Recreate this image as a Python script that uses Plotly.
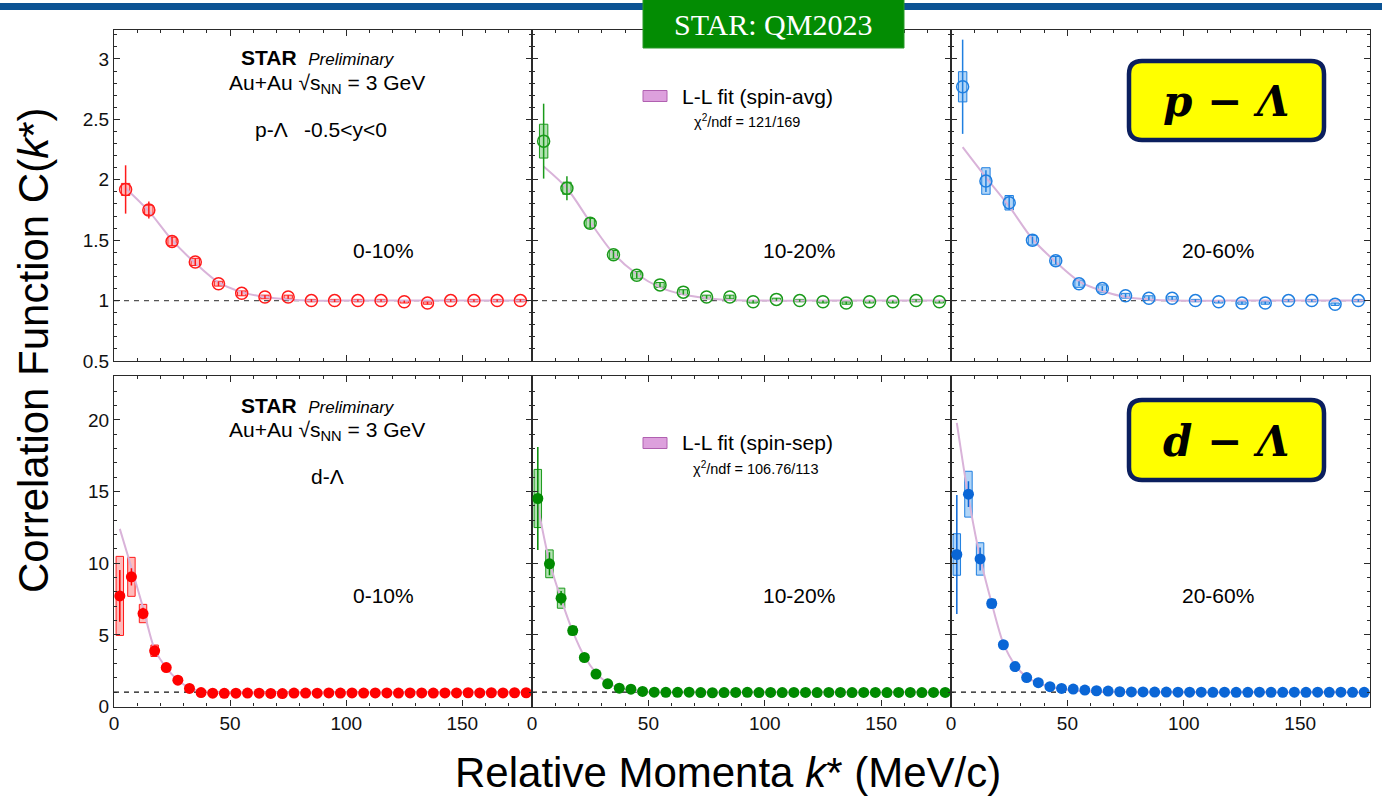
import plotly.graph_objects as go

W, H = 1382, 799

# ---------------- data ----------------
# p-Lambda, k* bin centres (MeV/c)
k_pL = [5, 15, 25, 35, 45, 55, 65, 75, 85, 95, 105, 115, 125, 135, 145, 155, 165, 175]

pL_0_10 = [1.92, 1.75, 1.49, 1.32, 1.14, 1.06, 1.03, 1.03, 1.00, 1.00, 1.00, 1.00, 0.99, 0.98, 1.00, 1.00, 1.00, 1.00]
pL_0_10_stat = [0.20, 0.07, 0.04, 0.03, 0.02, 0.02, 0.015, 0.015, 0.012, 0.012, 0.01, 0.01, 0.01, 0.01, 0.01, 0.01, 0.01, 0.01]
pL_0_10_sys = [0.05, 0.04, 0.035, 0.03, 0.02, 0.02, 0.015, 0.015, 0.01, 0.01, 0.01, 0.01, 0.01, 0.01, 0.01, 0.01, 0.01, 0.01]

pL_10_20 = [2.32, 1.93, 1.64, 1.38, 1.21, 1.13, 1.07, 1.03, 1.03, 0.99, 1.01, 1.00, 0.99, 0.98, 0.99, 0.99, 1.00, 0.99]
pL_10_20_stat = [0.31, 0.10, 0.04, 0.03, 0.025, 0.02, 0.02, 0.015, 0.015, 0.012, 0.012, 0.01, 0.01, 0.01, 0.01, 0.01, 0.01, 0.01]
pL_10_20_sys = [0.14, 0.05, 0.04, 0.035, 0.03, 0.02, 0.02, 0.015, 0.015, 0.01, 0.01, 0.01, 0.01, 0.01, 0.01, 0.01, 0.01, 0.01]

pL_20_60 = [2.77, 1.99, 1.81, 1.50, 1.33, 1.14, 1.10, 1.04, 1.02, 1.02, 1.00, 0.99, 0.98, 0.98, 1.00, 1.00, 0.97, 1.00]
pL_20_60_stat = [0.39, 0.09, 0.06, 0.03, 0.03, 0.02, 0.02, 0.015, 0.015, 0.012, 0.012, 0.01, 0.01, 0.01, 0.01, 0.01, 0.01, 0.01]
pL_20_60_sys = [0.125, 0.11, 0.06, 0.04, 0.035, 0.03, 0.03, 0.02, 0.02, 0.015, 0.01, 0.01, 0.01, 0.01, 0.01, 0.01, 0.01, 0.01]

# Lednicky-Lyuboshitz fit curves, p-Lambda
k_fit_pL = [5, 15, 25, 35, 45, 55, 65, 75, 85, 95, 120, 150, 178]
fit_pL_0_10 = [1.93, 1.74, 1.50, 1.31, 1.15, 1.07, 1.03, 1.01, 1.0, 1.0, 1.0, 1.0, 1.0]
fit_pL_10_20 = [2.11, 1.93, 1.65, 1.39, 1.22, 1.11, 1.05, 1.02, 1.005, 1.0, 1.0, 1.0, 1.0]
fit_pL_20_60 = [2.27, 2.02, 1.78, 1.51, 1.32, 1.16, 1.08, 1.03, 1.01, 1.0, 1.0, 1.0, 1.0]

# d-Lambda, k* bin centres (MeV/c)
k_dL = [2.5, 7.5, 12.5, 17.5, 22.5, 27.5, 32.5, 37.5, 42.5, 47.5, 52.5, 57.5,
        62.5, 67.5, 72.5, 77.5, 82.5, 87.5, 92.5, 97.5, 102.5, 107.5, 112.5, 117.5,
        122.5, 127.5, 132.5, 137.5, 142.5, 147.5, 152.5, 157.5, 162.5, 167.5, 172.5, 177.5]

dL_0_10 = [7.72, 9.05, 6.49, 3.89, 2.72, 1.84, 1.26, 0.97, 0.93, 0.92, 0.93, 0.94,
           0.93, 0.91, 0.90, 0.94, 0.94, 0.93, 0.95, 0.94, 0.95, 0.94, 0.95, 0.95,
           0.94, 0.95, 0.95, 0.94, 0.95, 0.95, 0.96, 0.95, 0.96, 0.95, 0.96, 0.96]
dL_0_10_stat = [1.8, 0.6, 0.4, 0.3, 0.2, 0.15, 0.1, 0.08, 0.06, 0.05, 0.05, 0.05,
                0.05, 0.05, 0.05, 0.05, 0.05, 0.05, 0.05, 0.05, 0.05, 0.05, 0.05, 0.05,
                0.05, 0.05, 0.05, 0.05, 0.05, 0.05, 0.05, 0.05, 0.05, 0.05, 0.05, 0.05]
dL_0_10_sys = [2.76, 1.36, 0.64, 0.40, 0.15, 0.1, 0.08, 0.05, 0.05, 0.05, 0.05, 0.05,
               0.05, 0.05, 0.05, 0.05, 0.05, 0.05, 0.05, 0.05, 0.05, 0.05, 0.05, 0.05,
               0.05, 0.05, 0.05, 0.05, 0.05, 0.05, 0.05, 0.05, 0.05, 0.05, 0.05, 0.05]

dL_10_20 = [14.52, 9.96, 7.56, 5.30, 3.42, 2.26, 1.58, 1.28, 1.21, 1.05, 1.00, 0.99,
            0.99, 1.00, 0.97, 0.96, 0.97, 0.98, 0.99, 0.97, 0.98, 0.97, 0.98, 0.98,
            0.97, 0.98, 0.98, 0.97, 0.98, 0.98, 0.97, 0.98, 0.98, 0.97, 0.98, 0.98]
dL_10_20_stat = [3.6, 0.8, 0.5, 0.3, 0.2, 0.15, 0.1, 0.08, 0.06, 0.05, 0.05, 0.05,
                 0.05, 0.05, 0.05, 0.05, 0.05, 0.05, 0.05, 0.05, 0.05, 0.05, 0.05, 0.05,
                 0.05, 0.05, 0.05, 0.05, 0.05, 0.05, 0.05, 0.05, 0.05, 0.05, 0.05, 0.05]
dL_10_20_sys = [2.03, 0.97, 0.70, 0.30, 0.2, 0.1, 0.08, 0.05, 0.05, 0.05, 0.05, 0.05,
                0.05, 0.05, 0.05, 0.05, 0.05, 0.05, 0.05, 0.05, 0.05, 0.05, 0.05, 0.05,
                0.05, 0.05, 0.05, 0.05, 0.05, 0.05, 0.05, 0.05, 0.05, 0.05, 0.05, 0.05]

dL_20_60 = [10.61, 14.82, 10.30, 7.19, 4.31, 2.79, 2.02, 1.66, 1.38, 1.26, 1.22, 1.15,
            1.10, 1.08, 1.03, 1.02, 1.02, 1.01, 1.01, 1.00, 1.00, 1.00, 0.99, 1.00,
            0.99, 0.99, 1.00, 0.99, 0.99, 1.00, 0.99, 1.00, 0.99, 1.00, 0.99, 0.99]
dL_20_60_stat = [4.16, 0.9, 0.8, 0.3, 0.2, 0.15, 0.1, 0.08, 0.06, 0.05, 0.05, 0.05,
                 0.05, 0.05, 0.05, 0.05, 0.05, 0.05, 0.05, 0.05, 0.05, 0.05, 0.05, 0.05,
                 0.05, 0.05, 0.05, 0.05, 0.05, 0.05, 0.05, 0.05, 0.05, 0.05, 0.05, 0.05]
dL_20_60_sys = [1.45, 1.60, 1.13, 0.30, 0.2, 0.1, 0.08, 0.05, 0.05, 0.05, 0.05, 0.05,
                0.05, 0.05, 0.05, 0.05, 0.05, 0.05, 0.05, 0.05, 0.05, 0.05, 0.05, 0.05,
                0.05, 0.05, 0.05, 0.05, 0.05, 0.05, 0.05, 0.05, 0.05, 0.05, 0.05, 0.05]

# Lednicky-Lyuboshitz fit curves, d-Lambda
k_fit_dL_0_10 = [2.5, 7.5, 12.5, 17.5, 22.5, 27.5, 32.5, 37.5, 42.5, 50, 100, 178]
fit_dL_0_10 = [12.4, 9.7, 6.9, 4.0, 2.7, 1.85, 1.3, 1.08, 1.02, 1.0, 1.0, 1.0]
k_fit_dL_10_20 = [2.5, 7.5, 12.5, 17.5, 22.5, 27.5, 32.5, 37.5, 42.5, 47.5, 55, 100, 178]
fit_dL_10_20 = [14.0, 10.1, 7.5, 5.25, 3.5, 2.35, 1.65, 1.3, 1.12, 1.04, 1.0, 1.0, 1.0]
k_fit_dL_20_60 = [2.5, 7.5, 12.5, 17.5, 22.5, 27.5, 32.5, 37.5, 42.5, 47.5, 52.5, 57.5, 62.5, 70, 100, 178]
fit_dL_20_60 = [19.8, 14.6, 10.4, 7.2, 4.4, 2.9, 2.05, 1.62, 1.38, 1.22, 1.12, 1.06, 1.03, 1.01, 1.0, 1.0]

centralities = ["0-10%", "10-20%", "20-60%"]
colors_open = ["#ff1a1a", "#1a9a1a", "#1f7fe0"]
colors_fill = ["#ff0000", "#008a00", "#0a66d6"]
box_fill = ["rgba(255,60,60,0.35)", "rgba(40,170,40,0.35)", "rgba(60,150,235,0.40)"]

panels = [
    dict(k=k_pL, c=pL_0_10, stat=pL_0_10_stat, sys=pL_0_10_sys, kf=k_fit_pL, cf=fit_pL_0_10),
    dict(k=k_pL, c=pL_10_20, stat=pL_10_20_stat, sys=pL_10_20_sys, kf=k_fit_pL, cf=fit_pL_10_20),
    dict(k=k_pL, c=pL_20_60, stat=pL_20_60_stat, sys=pL_20_60_sys, kf=k_fit_pL, cf=fit_pL_20_60),
    dict(k=k_dL, c=dL_0_10, stat=dL_0_10_stat, sys=dL_0_10_sys, kf=k_fit_dL_0_10, cf=fit_dL_0_10),
    dict(k=k_dL, c=dL_10_20, stat=dL_10_20_stat, sys=dL_10_20_sys, kf=k_fit_dL_10_20, cf=fit_dL_10_20),
    dict(k=k_dL, c=dL_20_60, stat=dL_20_60_stat, sys=dL_20_60_sys, kf=k_fit_dL_20_60, cf=fit_dL_20_60),
]

# ---------------- geometry helpers (pixels -> paper) ----------------
def fx(x):
    return x / W


def fy(y):
    return 1 - y / H


xdom = [(114, 532), (532, 951), (951, 1370)]
ydom = [(30, 361), (376, 706.5)]
yrange = [[0.5, 3.24], [0, 23.07]]
xrange_ = [0, 180]

FONT = "Liberation Sans, Arial, Helvetica, sans-serif"
AX = "#2a2a2a"

fig = go.Figure()
layout = dict(
    width=W, height=H, margin=dict(l=0, r=0, t=0, b=0),
    paper_bgcolor="white", plot_bgcolor="white", showlegend=False,
    barmode="overlay", font=dict(family=FONT, color="black"),
)

shapes = []
annotations = []

for i, p in enumerate(panels):
    row, col = divmod(i, 3)
    sfx = "" if i == 0 else str(i + 1)
    xa, ya = "x" + sfx, "y" + sfx

    layout["xaxis" + sfx] = dict(
        domain=[fx(xdom[col][0]), fx(xdom[col][1])], anchor=ya, range=xrange_,
        showgrid=False, zeroline=False, showline=True, linecolor=AX, linewidth=1.3,
        mirror="allticks", ticks="inside", ticklen=6, tickwidth=1, tickcolor=AX,
        tickmode="linear", tick0=0, dtick=50,
        minor=dict(ticks="inside", ticklen=3, tickcolor=AX, tickmode="linear", tick0=0, dtick=10),
        showticklabels=(row == 1), tickfont=dict(size=19, family=FONT, color="#111"),
        automargin=False, fixedrange=True,
    )
    if row == 0:
        ymaj, ymin = dict(tick0=0.5, dtick=0.5), dict(tick0=0, dtick=0.1)
    else:
        ymaj, ymin = dict(tick0=0, dtick=5), dict(tick0=0, dtick=1)
    layout["yaxis" + sfx] = dict(
        domain=[fy(ydom[row][1]), fy(ydom[row][0])], anchor=xa, range=yrange[row],
        showgrid=False, zeroline=False, showline=True, linecolor=AX, linewidth=1.3,
        mirror="allticks", ticks="inside", ticklen=6, tickwidth=1, tickcolor=AX,
        tickmode="linear", **ymaj,
        minor=dict(ticks="inside", ticklen=3, tickcolor=AX, tickmode="linear", **ymin),
        showticklabels=(col == 0), tickfont=dict(size=19, family=FONT, color="#111"),
        automargin=False, fixedrange=True,
    )

    # reference line at C(k*) = 1
    shapes.append(dict(
        type="line", xref=xa + " domain", yref=ya, x0=0, x1=1, y0=1, y1=1,
        line=dict(color="#555" if row == 0 else "#111", width=1.4, dash="5px,5px"), layer="below",
    ))

    # fit curve
    fig.add_trace(go.Scatter(
        x=p["kf"], y=p["cf"], mode="lines", line=dict(color="#d9b3d9", width=2, shape="spline", smoothing=0.8),
        xaxis=xa, yaxis=ya, hoverinfo="skip",
    ))

    # systematic uncertainty boxes
    bw = 3.6 if row == 0 else 3.2
    fig.add_trace(go.Bar(
        x=p["k"], y=[2 * s for s in p["sys"]], base=[c - s for c, s in zip(p["c"], p["sys"])],
        width=bw, marker=dict(color=box_fill[col], line=dict(color=colors_open[col], width=1)),
        xaxis=xa, yaxis=ya, hoverinfo="skip",
    ))

    # data points with statistical errors
    if row == 0:
        marker = dict(symbol="circle-open", size=12, color=colors_open[col], line=dict(width=1.5))
        ecol = colors_open[col]
    else:
        marker = dict(symbol="circle", size=11, color=colors_fill[col], line=dict(width=0))
        ecol = colors_fill[col]
    fig.add_trace(go.Scatter(
        x=p["k"], y=p["c"], mode="markers", marker=marker,
        error_y=dict(type="data", array=p["stat"], visible=True, color=ecol, thickness=1.5, width=0),
        xaxis=xa, yaxis=ya,
    ))

    # centrality label
    annotations.append(dict(
        xref="paper", yref="paper",
        x=fx(xdom[col][0] + 269 + (-2 if col else 0)), y=fy(250 if row == 0 else 595),
        text=centralities[col], showarrow=False, font=dict(size=21, family=FONT, color="black"),
        xanchor="center", yanchor="middle",
    ))

# ---------------- header ----------------
shapes.append(dict(type="rect", xref="paper", yref="paper", x0=fx(0), x1=fx(W), y0=fy(10), y1=fy(3),
                   fillcolor="#0b5394", line=dict(width=0), layer="above"))
shapes.append(dict(type="rect", xref="paper", yref="paper", x0=fx(643), x1=fx(904), y0=fy(48), y1=fy(-4),
                   fillcolor="#038c03", line=dict(color="#2a9a2a", width=1), layer="above"))
annotations.append(dict(xref="paper", yref="paper", x=fx(773), y=fy(25), text="STAR: QM2023", showarrow=False,
                        font=dict(size=30, family="Liberation Serif, Times New Roman, serif", color="white"),
                        xanchor="center", yanchor="middle"))

# ---------------- panel texts ----------------
for row, yoff in ((0, 0), (1, 347)):
    annotations.append(dict(
        xref="paper", yref="paper", x=fx(318), y=fy(58 + yoff),
        text="<b>STAR</b>  <i><span style='font-size:17px'>Preliminary</span></i>",
        showarrow=False, font=dict(size=21, family=FONT), xanchor="center", yanchor="middle"))
    annotations.append(dict(
        xref="paper", yref="paper", x=fx(327), y=fy(84 + yoff),
        text="Au+Au √s<sub>NN</sub> = 3 GeV",
        showarrow=False, font=dict(size=21, family=FONT), xanchor="center", yanchor="middle"))

annotations.append(dict(xref="paper", yref="paper", x=fx(321), y=fy(130), text="p-Λ   -0.5&lt;y&lt;0",
                        showarrow=False, font=dict(size=21, family=FONT), xanchor="center", yanchor="middle"))
annotations.append(dict(xref="paper", yref="paper", x=fx(327), y=fy(476), text="d-Λ",
                        showarrow=False, font=dict(size=21, family=FONT), xanchor="center", yanchor="middle"))

# legends for the fits
for yb, label, chi, chix in ((96, "L-L fit (spin-avg)", "χ<sup>2</sup>/ndf = 121/169", 747),
                             (443, "L-L fit (spin-sep)", "χ<sup>2</sup>/ndf = 106.76/113", 755)):
    shapes.append(dict(type="rect", xref="paper", yref="paper", x0=fx(643), x1=fx(667), y0=fy(yb + 5.5),
                       y1=fy(yb - 5.5), fillcolor="#dda0dd", line=dict(color="#b060b0", width=1)))
    annotations.append(dict(xref="paper", yref="paper", x=fx(680), y=fy(yb), text=label, showarrow=False,
                            font=dict(size=21, family=FONT), xanchor="left", yanchor="middle"))
    annotations.append(dict(xref="paper", yref="paper", x=fx(chix), y=fy(yb + 25), text=chi, showarrow=False,
                            font=dict(size=14.5, family=FONT), xanchor="center", yanchor="middle"))


# yellow species tags with rounded corners
def rounded_path(x0, y0, x1, y1, r):
    pts = [
        ("M", [(x0 + r, y0)]), ("L", [(x1 - r, y0)]), ("Q", [(x1, y0), (x1, y0 + r)]),
        ("L", [(x1, y1 - r)]), ("Q", [(x1, y1), (x1 - r, y1)]), ("L", [(x0 + r, y1)]),
        ("Q", [(x0, y1), (x0, y1 - r)]), ("L", [(x0, y0 + r)]), ("Q", [(x0, y0), (x0 + r, y0)]),
    ]
    s = ""
    for cmd, cs in pts:
        s += cmd + " " + " ".join(f"{fx(a):.5f},{fy(b):.5f}" for a, b in cs) + " "
    return s + "Z"


for (yt, yb2, tag) in ((61, 140, "p − Λ"), (400, 480, "d − Λ")):
    shapes.append(dict(type="path", xref="paper", yref="paper", path=rounded_path(1129, yt, 1324, yb2, 13),
                       fillcolor="#ffff00", line=dict(color="#0b1f5e", width=4.5), layer="above"))
    annotations.append(dict(xref="paper", yref="paper", x=fx(1226), y=fy((yt + yb2) / 2 + 1),
                            text=f"<b><i>{tag}</i></b>", showarrow=False,
                            font=dict(size=42, family="DejaVu Serif, serif", color="black"),
                            xanchor="center", yanchor="middle"))

# axis titles
annotations.append(dict(xref="paper", yref="paper", x=fx(33), y=fy(350), text="Correlation Function C(<i>k</i>*)",
                        showarrow=False, textangle=-90, font=dict(size=42, family=FONT, color="black"),
                        xanchor="center", yanchor="middle"))
annotations.append(dict(xref="paper", yref="paper", x=fx(728), y=fy(772), text="Relative Momenta <i>k</i>* (MeV/c)",
                        showarrow=False, font=dict(size=42, family=FONT, color="black"),
                        xanchor="center", yanchor="middle"))

layout["shapes"] = shapes
layout["annotations"] = annotations
fig.update_layout(**layout)
fig.write_html("out.html")
